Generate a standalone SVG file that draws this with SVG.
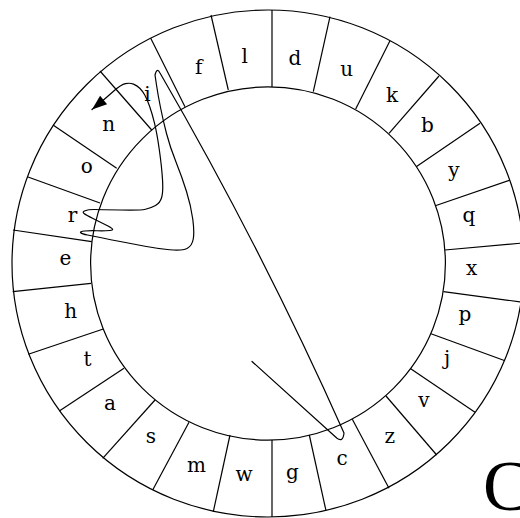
<svg xmlns="http://www.w3.org/2000/svg" width="520" height="518" viewBox="0 0 520 518">
<style>
.ring{fill:none;stroke:#000;stroke-width:1.2}
.div{stroke:#000;stroke-width:1.2}
.lt{font-family:"DejaVu Serif",serif;font-size:20px;fill:#000;text-anchor:middle}
.trace{fill:none;stroke:#000;stroke-width:1.2;stroke-linejoin:round;stroke-linecap:round}
.big{font-family:"Liberation Serif",serif;font-size:71px;fill:#000}
</style>
<defs>
<marker id="ah" markerUnits="userSpaceOnUse" markerWidth="20" markerHeight="20" viewBox="-16 -8 20 16" refX="0" refY="0" orient="auto">
<path d="M0,0 L-15,-5.5 L-15,5.5 Z" fill="#000"/>
</marker>
</defs>
<rect width="520" height="518" fill="#fff"/>
<g id="wheel">
<ellipse class="ring" cx="268" cy="263.5" rx="256" ry="253.5"/>
<ellipse class="ring" cx="268" cy="263.5" rx="177.4" ry="176.6"/>
<g id="dividers">
<line class="div" x1="272" y1="87" x2="272" y2="10"/>
<line class="div" x1="313.3" y1="91.7" x2="330" y2="16.7"/>
<line class="div" x1="355.7" y1="109" x2="390" y2="40.7"/>
<line class="div" x1="389" y1="133.3" x2="439" y2="76"/>
<line class="div" x1="416.2" y1="166.7" x2="480" y2="123.3"/>
<line class="div" x1="435.3" y1="205.8" x2="510" y2="180"/>
<line class="div" x1="445" y1="250" x2="523" y2="243"/>
<line class="div" x1="443.5" y1="291.6" x2="521" y2="302"/>
<line class="div" x1="431" y1="333.7" x2="505" y2="360.7"/>
<line class="div" x1="410.7" y1="368.7" x2="475" y2="412.3"/>
<line class="div" x1="386" y1="396" x2="436.7" y2="455"/>
<line class="div" x1="352.3" y1="419.3" x2="389" y2="488.3"/>
<line class="div" x1="309.3" y1="435" x2="326" y2="510.7"/>
<line class="div" x1="272" y1="440" x2="272" y2="517"/>
<line class="div" x1="230" y1="435" x2="213.3" y2="511.7"/>
<line class="div" x1="189" y1="422.3" x2="152.7" y2="490"/>
<line class="div" x1="155" y1="400" x2="102.7" y2="458.3"/>
<line class="div" x1="124" y1="368.3" x2="59.3" y2="411"/>
<line class="div" x1="103.3" y1="329" x2="28.3" y2="354.3"/>
<line class="div" x1="91" y1="283.3" x2="12.7" y2="291.7"/>
<line class="div" x1="91.7" y1="241.7" x2="13" y2="230"/>
<line class="div" x1="100" y1="203" x2="28" y2="177"/>
<line class="div" x1="116.7" y1="168.3" x2="53" y2="125"/>
<line class="div" x1="151.7" y1="130" x2="100" y2="71"/>
<line class="div" x1="185" y1="106.7" x2="150.7" y2="38.3"/>
<line class="div" x1="228.3" y1="90" x2="211" y2="15"/>
</g>
</g>
<g id="letters">
<g id="seg-d"><text class="lt" x="295" y="65">d</text></g>
<g id="seg-u"><text class="lt" x="346.7" y="76">u</text></g>
<g id="seg-k"><text class="lt" x="392" y="101.7">k</text></g>
<g id="seg-b"><text class="lt" x="427.5" y="131.7">b</text></g>
<g id="seg-y"><text class="lt" x="454" y="177">y</text></g>
<g id="seg-q"><text class="lt" x="468.8" y="222">q</text></g>
<g id="seg-x"><text class="lt" x="471.7" y="275">x</text></g>
<g id="seg-p"><text class="lt" x="465" y="320.5">p</text></g>
<g id="seg-j"><text class="lt" x="447" y="365">j</text></g>
<g id="seg-v"><text class="lt" x="424" y="406.7">v</text></g>
<g id="seg-z"><text class="lt" x="389.7" y="442.7">z</text></g>
<g id="seg-c"><text class="lt" x="342" y="465">c</text></g>
<g id="seg-g"><text class="lt" x="292.5" y="479">g</text></g>
<g id="seg-w"><text class="lt" x="244" y="480.5">w</text></g>
<g id="seg-m"><text class="lt" x="196.5" y="471.7">m</text></g>
<g id="seg-s"><text class="lt" x="151" y="442.7">s</text></g>
<g id="seg-a"><text class="lt" x="110" y="410">a</text></g>
<g id="seg-t"><text class="lt" x="87.5" y="366">t</text></g>
<g id="seg-h"><text class="lt" x="70.8" y="318.3">h</text></g>
<g id="seg-e"><text class="lt" x="65.3" y="265">e</text></g>
<g id="seg-r"><text class="lt" x="72.5" y="221.7">r</text></g>
<g id="seg-o"><text class="lt" x="86.7" y="173.3">o</text></g>
<g id="seg-n"><text class="lt" x="108.8" y="130.7">n</text></g>
<g id="seg-i"><text class="lt" x="147.5" y="100.7">i</text></g>
<g id="seg-f"><text class="lt" x="198.7" y="74">f</text></g>
<g id="seg-l"><text class="lt" x="244.7" y="62.7">l</text></g>
</g>
<g id="connectors">
<path class="trace" marker-end="url(#ah)" d="M252,361.5 L336.7,438 Q343,443 344,433 Q262,249 160,73 Q157,67 155,75 L156.5,85 Q158,95 160.5,107.5 Q163,120 166.5,133.5 Q170,147 176,162 Q182,177 186.5,191.5 Q191,206 192.75,219 Q194.5,232 193.25,239 Q192,246 187,248.5 Q182,251 169.5,249.75 Q157,248.5 145,246.25 Q133,244 121.5,241.75 Q110,239.5 101.5,237.75 Q93,236 87.5,235 Q82,234 80.75,232.75 Q79.5,231.5 84.75,231 Q90,230.5 97,230.75 Q104,231 110,230.5 Q116,230 108,226 Q100,222 93,218.5 Q86,215 84,213.5 Q82,212 85,210.75 Q88,209.5 94,209.5 Q100,209.5 120,210 Q140,210.5 145.5,209.25 Q151,208 155.5,205.5 Q160,203 161.65,197.5 Q163.3,192 162.5,179.35 Q161.7,166.7 159.35,150 Q157,133.3 154.5,123.15 Q152,113 149.5,106 Q147,99 144.75,95 Q142.5,91 139.75,88.25 Q137,85.5 133.5,84.1 Q130,82.7 125.5,83.6 Q121,84.5 113.5,91.25 Q106,98 99,103.75 L92,109.5"/>
</g>
<g id="caption"><text class="big" x="483" y="510">C</text></g>
</svg>
